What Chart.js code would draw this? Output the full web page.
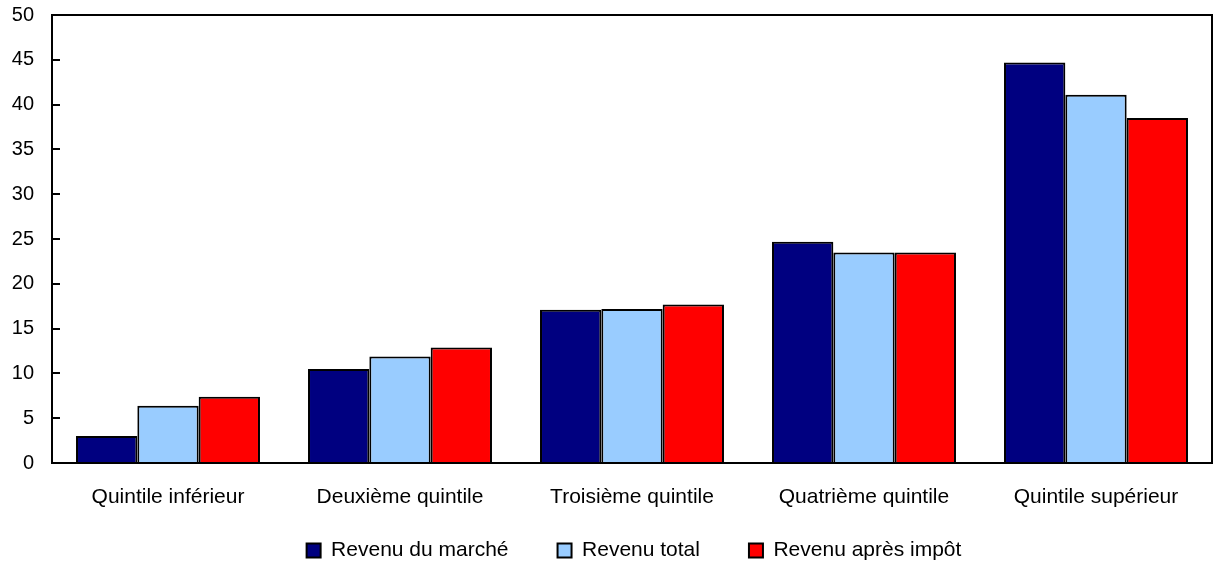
<!DOCTYPE html>
<html><head><meta charset="utf-8">
<script src="https://cdn.jsdelivr.net/npm/chart.js@4.4.1/dist/chart.umd.min.js"></script>
<style>html,body{margin:0;padding:0;background:#fff;}#wrap{width:1217px;height:562px;}</style>
</head><body><div id="wrap"><canvas id="c"></canvas></div>
<script>
const categories = ["Quintile inférieur","Deuxième quintile","Troisième quintile","Quatrième quintile","Quintile supérieur"];
const marketIncome = [3.0, 10.5, 17.1, 24.7, 44.7];
const totalIncome = [6.4, 11.9, 17.2, 23.5, 41.1];
const afterTaxIncome = [7.4, 12.9, 17.7, 23.5, 38.5];
const seriesNames = ["Revenu du marché","Revenu total","Revenu après impôt"];
const yTicks = [0,5,10,15,20,25,30,35,40,45,50];

Chart.defaults.font.family = "'Liberation Sans', Arial, sans-serif";
Chart.defaults.font.size = 21;
Chart.defaults.color = "#000";

const LEGEND_H = 55;
const LEGEND_TOP = 491;
const LEGEND_SHIFT_X = 28;

const framePlugin = {
  id: 'frame',
  beforeLayout(chart) {
    const lg = chart.legend;
    if (lg && !lg._fitWrapped) {
      const orig = lg.fit;
      lg.fit = function() { orig.call(this); this.height = LEGEND_H; };
      lg._fitWrapped = true;
    }
  },
  afterLayout(chart) {
    const lg = chart.legend;
    if (lg) {
      lg.top = LEGEND_TOP;
      lg.bottom = chart.height;
      lg.left += LEGEND_SHIFT_X;
      lg.right += LEGEND_SHIFT_X;
    }
  },
  afterDraw(chart) {
    const {ctx, chartArea: a, scales} = chart;
    ctx.save();
    ctx.strokeStyle = '#000';
    ctx.lineWidth = 2;
    ctx.strokeRect(a.left, a.top, a.right - a.left, a.bottom - a.top);
    ctx.beginPath();
    for (const v of yTicks) {
      const y = Math.round(scales.y.getPixelForValue(v));
      ctx.moveTo(a.left, y);
      ctx.lineTo(a.left + 8, y);
    }
    ctx.stroke();
    ctx.restore();
  }
};

new Chart(document.getElementById('c'), {
  type: 'bar',
  data: {
    labels: categories,
    datasets: [
      {label: seriesNames[0], data: marketIncome, backgroundColor: '#000080', borderColor: '#000', borderWidth: 2},
      {label: seriesNames[1], data: totalIncome, backgroundColor: '#99CCFF', borderColor: '#000', borderWidth: 2},
      {label: seriesNames[2], data: afterTaxIncome, backgroundColor: '#FF0000', borderColor: '#000', borderWidth: 2}
    ]
  },
  options: {
    responsive: true,
    maintainAspectRatio: false,
    animation: false,
    layout: {padding: {top: 0, right: 5, left: 0, bottom: 0}},
    datasets: {bar: {categoryPercentage: 0.793, barPercentage: 1.0}},
    scales: {
      x: {
        grid: {display: false, drawTicks: false},
        border: {color: '#000', width: 2},
        ticks: {padding: 22, font: {size: 21}, maxRotation: 0},
        afterFit(s) { s.height = 44; }
      },
      y: {
        min: 0, max: 50,
        afterBuildTicks(s) { s.ticks = yTicks.map(v => ({value: v})); },
        grid: {display: false, drawTicks: false},
        border: {color: '#000', width: 2},
        ticks: {padding: 18, font: {size: 20}},
        afterFit(s) { s.width = 52; s.paddingTop = 15; s.paddingBottom = 15; }
      }
    },
    plugins: {
      legend: {
        position: 'bottom',
        labels: {boxWidth: 14, boxHeight: 14, padding: 49, color: '#000', font: {size: 21}}
      },
      tooltip: {enabled: false}
    }
  },
  plugins: [framePlugin]
});
</script></body></html>
